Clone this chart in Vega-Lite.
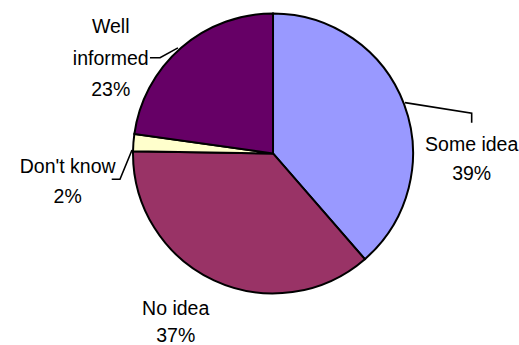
{
  "$schema": "https://vega.github.io/schema/vega-lite/v6.json",
  "width": 519,
  "height": 345,
  "padding": 0,
  "autosize": "none",
  "background": "white",
  "config": {"view": {"stroke": null}},
  "datasets": {
    "slices": [
      {"answer": "Some idea", "pct": 39, "rank": 1},
      {"answer": "No idea", "pct": 37, "rank": 2},
      {"answer": "Don't know", "pct": 2, "rank": 3},
      {"answer": "Well informed", "pct": 23, "rank": 4}
    ],
    "leaders": [
      {"answer": "Well informed", "seq": 1, "x": -0.879, "y": 0.684},
      {"answer": "Well informed", "seq": 2, "x": -0.807, "y": 0.684},
      {"answer": "Well informed", "seq": 3, "x": -0.679, "y": 0.754},
      {"answer": "Don't know", "seq": 1, "x": -1.152, "y": -0.184},
      {"answer": "Don't know", "seq": 2, "x": -1.093, "y": -0.184},
      {"answer": "Don't know", "seq": 3, "x": -1.007, "y": 0.025},
      {"answer": "Some idea", "seq": 1, "x": 0.943, "y": 0.363},
      {"answer": "Some idea", "seq": 2, "x": 1.419, "y": 0.287},
      {"answer": "Some idea", "seq": 3, "x": 1.419, "y": 0.22}
    ],
    "labels": [
      {"answer": "Well informed", "text": "Well", "x": -1.159, "y": 0.859},
      {"answer": "Well informed", "text": "informed", "x": -1.159, "y": 0.634},
      {"answer": "Well informed", "text": "23%", "x": -1.159, "y": 0.411},
      {"answer": "Don't know", "text": "Don't know", "x": -1.4665, "y": -0.137},
      {"answer": "Don't know", "text": "2%", "x": -1.4665, "y": -0.351},
      {"answer": "Some idea", "text": "Some idea", "x": 1.419, "y": 0.02},
      {"answer": "Some idea", "text": "39%", "x": 1.419, "y": -0.189},
      {"answer": "No idea", "text": "No idea", "x": -0.695, "y": -1.154},
      {"answer": "No idea", "text": "37%", "x": -0.695, "y": -1.35}
    ]
  },
  "layer": [
    {
      "data": {"name": "slices"},
      "mark": {"type": "arc", "outerRadius": 140, "stroke": "black", "strokeWidth": 2},
      "encoding": {
        "theta": {"field": "pct", "type": "quantitative", "stack": true},
        "order": {"field": "rank", "type": "quantitative"},
        "color": {
          "field": "answer",
          "type": "nominal",
          "scale": {
            "domain": ["Some idea", "No idea", "Don't know", "Well informed"],
            "range": ["#9999FF", "#993366", "#FFFFCC", "#660066"]
          },
          "legend": null
        },
        "x": {"datum": 0, "type": "quantitative", "scale": {"domain": [-1.95, 1.757], "nice": false, "zero": false}, "axis": null},
        "y": {"datum": 0, "type": "quantitative", "scale": {"domain": [-1.368, 1.096], "nice": false, "zero": false}, "axis": null}
      }
    },
    {
      "data": {"name": "leaders"},
      "mark": {"type": "line", "stroke": "black", "strokeWidth": 1.6, "clip": false},
      "encoding": {
        "x": {"field": "x", "type": "quantitative", "axis": null},
        "y": {"field": "y", "type": "quantitative", "axis": null},
        "detail": {"field": "answer", "type": "nominal"},
        "order": {"field": "seq", "type": "quantitative"}
      }
    },
    {
      "data": {"name": "labels"},
      "mark": {"type": "text", "font": "Liberation Sans", "fontSize": 19.5, "align": "center", "baseline": "alphabetic", "color": "black", "clip": false},
      "encoding": {
        "x": {"field": "x", "type": "quantitative", "axis": null},
        "y": {"field": "y", "type": "quantitative", "axis": null},
        "text": {"field": "text", "type": "nominal"}
      }
    }
  ]
}
